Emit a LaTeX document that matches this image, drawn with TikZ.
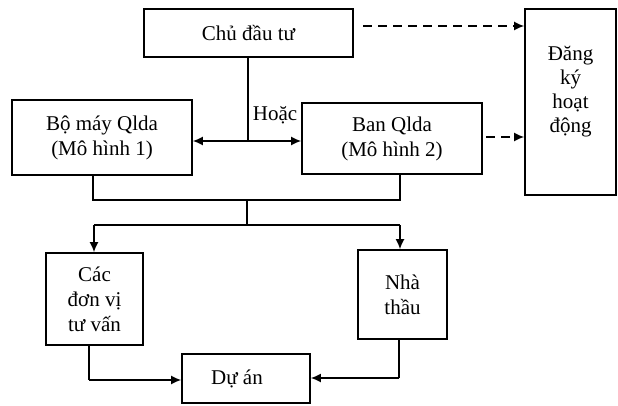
\documentclass[tikz,border=0pt]{standalone}
\usepackage{fontspec}
\setmainfont{Liberation Serif}
\usetikzlibrary{arrows.meta}
\begin{document}
\begin{tikzpicture}[x=1pt,y=-1pt,
  box/.style={draw,line width=1.6pt,inner sep=0pt,align=center,
    font=\fontsize{21}{25}\selectfont},
  txt/.style={inner sep=0pt,align=center,font=\fontsize{21}{24}\selectfont},
  conn/.style={line width=1.6pt},
  tip/.tip={Latex[length=10pt,width=9pt]},
  arr/.style={conn,-tip},
  darr/.style={arr,dash pattern=on 9pt off 6pt}]
\useasboundingbox (0,0) rectangle (618,406);
% boxes
\node[box,minimum width=209pt,minimum height=48pt] (chu) at (248.5,33) {Chủ đầu tư};
\node[box,minimum width=91pt,minimum height=186pt] (dk) at (570.5,102) {};
\node[txt] (dkt) at (570.5,92) {Đăng\\ký\\hoạt\\động};
\node[box,minimum width=180pt,minimum height=75pt] (bm) at (102,137.5) {Bộ máy Qlda\\(Mô hình 1)};
\node[box,minimum width=180pt,minimum height=71pt] (ban) at (392,138.5) {Ban Qlda\\(Mô hình 2)};
\node[txt] (hoac) at (275,115) {Hoặc};
\node[box,minimum width=97pt,minimum height=92pt] (cac) at (94.5,299) {Các\\đơn vị\\tư vấn};
\node[box,minimum width=89pt,minimum height=89pt] (nha) at (402.5,294.5) {Nhà\\thầu};
\node[box,minimum width=128pt,minimum height=49pt] (du) at (246,378.5) {Dự án\hspace{18pt}};
% coordinates
\coordinate (j) at (248,141);
\coordinate (d1) at (363,26);
\coordinate (d2) at (486,137);
\coordinate (bl) at (93,200);
\coordinate (br) at (400,200);
\coordinate (m) at (247,200);
\coordinate (sl) at (94,225);
\coordinate (sr) at (400,225);
\coordinate (cl) at (89,380);
\coordinate (cr) at (399,378);
% connectors
\draw[conn] (chu.south -| j) -- (j);
\draw[conn,tip-tip] (j -| bm.east) -- (j -| ban.west);
\draw[darr] (d1) -- (d1 -| dk.west);
\draw[darr] (d2) -- (d2 -| dk.west);
\draw[conn] (bl |- bm.south) -- (bl) -- (br) -- (br |- ban.south);
\draw[conn] (m) -- (m |- sl);
\draw[conn] (sl) -- (sr);
\draw[arr] (sl) -- (sl |- cac.north);
\draw[arr] (sr) -- (sr |- nha.north);
\draw[conn] (cl |- cac.south) -- (cl);
\draw[arr] (cl) -- (cl -| du.west);
\draw[conn] (cr |- nha.south) -- (cr);
\draw[arr] (cr) -- (cr -| du.east);
\end{tikzpicture}
\end{document}
